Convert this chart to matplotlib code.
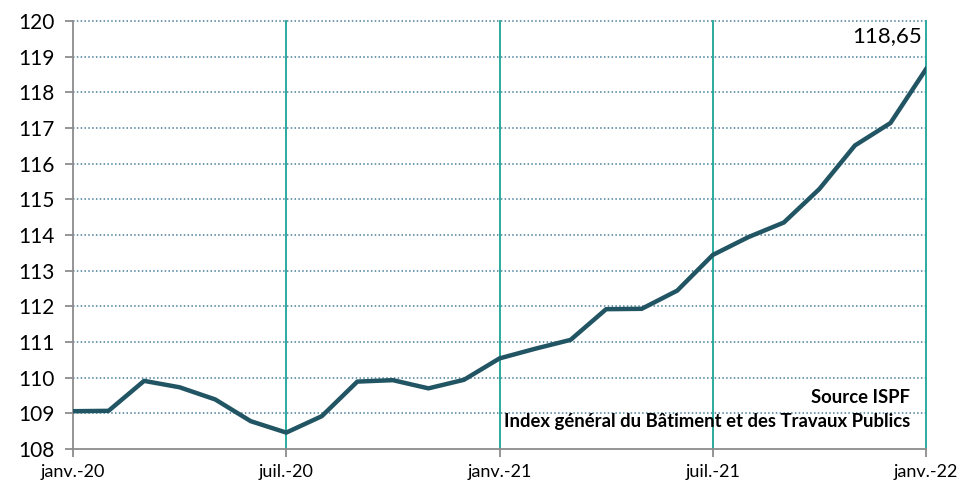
import matplotlib
matplotlib.use("Agg")
import matplotlib.pyplot as plt

plt.rcParams['font.family'] = ['Lato', 'DejaVu Sans']

# monthly index, janv.-20 .. janv.-22
values = [109.06, 109.07, 109.91, 109.73, 109.39, 108.78, 108.46, 108.92,
          109.89, 109.93, 109.70, 109.94, 110.54, 110.81, 111.06, 111.92,
          111.93, 112.44, 113.44, 113.94, 114.35, 115.29, 116.51, 117.14,
          118.65]
tick_pos = [0, 6, 12, 18, 24]
tick_labels = ['janv.-20', 'juil.-20', 'janv.-21', 'juil.-21', 'janv.-22']
y_ticks = list(range(108, 121))
last_label = '118,65'
source_lines = ['Source ISPF', 'Index général du Bâtiment et des Travaux Publics']

months = list(range(len(values)))

fig = plt.figure(figsize=(9.66, 4.86), dpi=100)
ax = fig.add_axes([73 / 966, 1 - 449 / 486, (926 - 73) / 966, (449 - 21) / 486])

for y in y_ticks[1:]:
    ax.axhline(y, color='#4a7f99', linestyle=(0, (1, 1.5)), linewidth=1.1, zorder=1, clip_on=False)
for x in tick_pos[1:]:
    ax.axvline(x, color='#1aa596', linewidth=1.3, zorder=1, clip_on=False)

ax.plot(months, values, color='#225563', linewidth=3.2, solid_joinstyle='round', zorder=3)

ax.set_xlim(0, 24)
ax.set_ylim(108, 120)
ax.set_yticks(y_ticks)
ax.set_yticklabels([str(v) for v in y_ticks], fontsize=15)
ax.set_xticks(tick_pos)
ax.set_xticklabels(tick_labels, fontsize=13)

for s in ['top', 'right']:
    ax.spines[s].set_visible(False)
for s in ['left', 'bottom']:
    ax.spines[s].set_color('#8c8c8c')
    ax.spines[s].set_linewidth(1.3)
ax.tick_params(axis='y', length=6, width=1.3, color='#8c8c8c', pad=7)
ax.tick_params(axis='x', length=6, width=1.3, color='#8c8c8c', pad=5)

ax.annotate(last_label, xy=(months[-1], values[-1]), xytext=(-3, 24), textcoords='offset points',
            ha='right', va='center', fontsize=16)

ax.text(0.981, 0.121, source_lines[0], transform=ax.transAxes, ha='right', va='center',
        fontsize=13.3, fontweight='bold')
ax.text(0.981, 0.064, source_lines[1], transform=ax.transAxes, ha='right', va='center',
        fontsize=13.3, fontweight='bold')

fig.savefig('out.png', dpi=100)
